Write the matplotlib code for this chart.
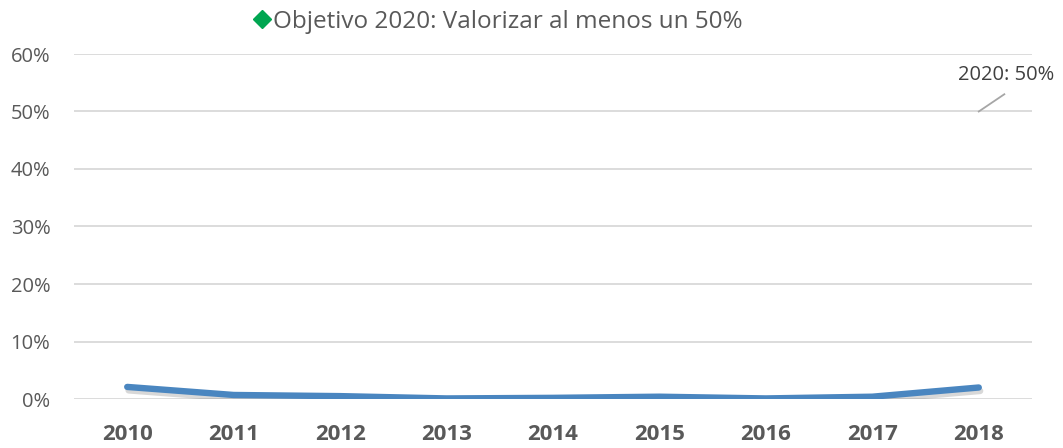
import matplotlib
matplotlib.use("Agg")
import matplotlib.pyplot as plt
import matplotlib.patheffects as pe
from matplotlib.lines import Line2D
import numpy as np

years = ["2010", "2011", "2012", "2013", "2014", "2015", "2016", "2017", "2018"]
valorizacion = [2.1, 0.7, 0.5, 0.1, 0.2, 0.4, 0.1, 0.4, 2.0]
objetivo_label = "Objetivo 2020: Valorizar al menos un 50%"
objetivo_anio = "2020"
objetivo_valor = 50
y_ticks = [0, 10, 20, 30, 40, 50, 60]

plt.rcParams['font.family'] = ['Open Sans', 'DejaVu Sans']

fig = plt.figure(figsize=(10.63, 4.48), dpi=100)
ax = fig.add_axes([74/1063, 1 - 399/448, (1032 - 74)/1063, (399 - 54)/448])

x = np.arange(len(years))
ax.plot(x, valorizacion, color="#4A86C0", lw=4.6, solid_capstyle="round",
        path_effects=[pe.SimpleLineShadow(offset=(1, -2.5), shadow_color="gray", alpha=0.3),
                      pe.Normal()], zorder=3)

ax.set_xlim(-0.5, len(years) - 0.5)
ax.set_ylim(0, 60)
ax.set_yticks(y_ticks)
ax.set_yticklabels([f"{v}%" for v in y_ticks], color="#595959", fontsize=14.5)
ax.set_xticks(x)
ax.set_xticklabels(years, color="#595959", fontsize=16, fontweight="bold")
ax.tick_params(axis="both", length=0)
ax.tick_params(axis="y", pad=17)
ax.tick_params(axis="x", pad=18)
ax.grid(axis="y", color="#D9D9D9", lw=1.3)
ax.set_axisbelow(True)
for s in ax.spines.values():
    s.set_visible(False)

# objective point: leader line + label (marker not visible in reference)
xo = len(years) - 1
ax.plot([xo, xo + 0.24], [objetivo_valor, objetivo_valor + 3.0], color="#A6A6A6", lw=1.3,
        clip_on=False, zorder=4)
ax.text(xo + 0.71, objetivo_valor + 4.6, f"{objetivo_anio}: {objetivo_valor}%", fontsize=14.5,
        color="#404040", ha="right", va="bottom", clip_on=False)

handle = Line2D([], [], color="none", marker="D", markersize=9.5, markerfacecolor="#00A651",
                markeredgecolor="#00A651")
fig.legend([handle], [objetivo_label], loc="center", bbox_to_anchor=(497/1063, 1 - 22/448),
           frameon=False, fontsize=17.5, handletextpad=0.0, handlelength=0.9, labelcolor="#595959")

fig.savefig("out.png", dpi=100)
